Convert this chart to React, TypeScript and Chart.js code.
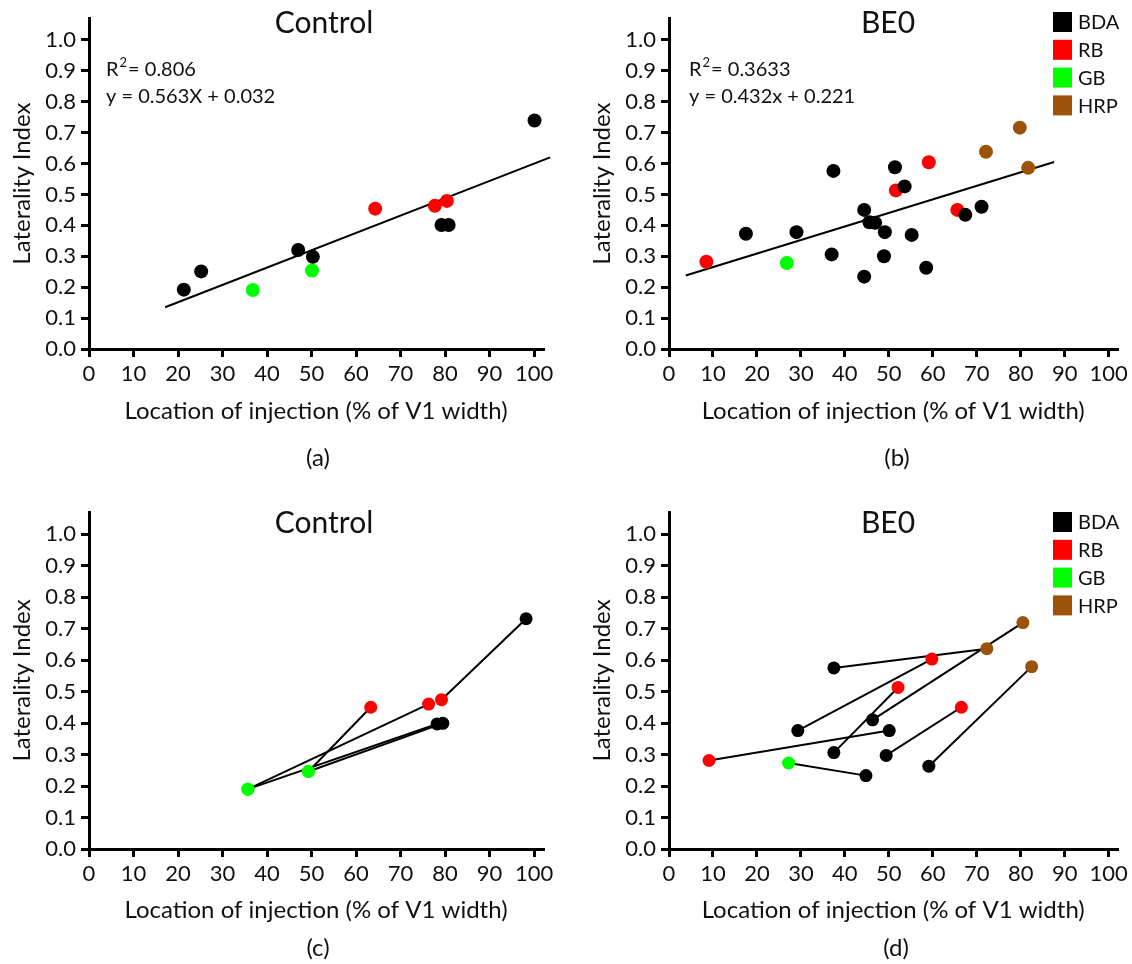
import React, { useEffect, useRef } from 'react';
import { Chart, registerables } from 'chart.js';
Chart.register(...registerables);

const FONT = 'Lato, "Open Sans", sans-serif';
const TEXT = '#111111';
const tracerNames = ['BDA', 'RB', 'GB', 'HRP'];
const tracerColors: Record<string, string> = { BDA: '#000000', RB: '#ff0000', GB: '#00ff00', HRP: '#9c5208' };

const xTicks = [0, 10, 20, 30, 40, 50, 60, 70, 80, 90, 100];
const yTicks = [0, 0.1, 0.2, 0.3, 0.4, 0.5, 0.6, 0.7, 0.8, 0.9, 1.0];
const xTitle = 'Location of injection (% of V1 width)';
const yTitle = 'Laterality Index';

// (a) Control scatter
const ctrlBDA = [[21.3, 0.192], [25.2, 0.251], [47.0, 0.320], [50.3, 0.298], [79.2, 0.401], [80.8, 0.401], [100.1, 0.739]];
const ctrlRB = [[64.3, 0.454], [77.7, 0.463], [80.4, 0.479]];
const ctrlGB = [[36.8, 0.191], [50.1, 0.254]];
const ctrlFit = [[17.1, 0.135], [103.6, 0.620]];
const ctrlStats = ['0.806', 'y = 0.563X + 0.032'];

// (b) BE0 scatter
const beoBDA = [[17.5, 0.373], [29.0, 0.378], [37.0, 0.306], [37.4, 0.576], [44.4, 0.450], [44.4, 0.234], [45.6, 0.410], [46.9, 0.408], [49.1, 0.378], [48.9, 0.300], [51.4, 0.588], [53.6, 0.526], [55.2, 0.369], [58.5, 0.263], [67.4, 0.434], [71.1, 0.460]];
const beoRB = [[8.5, 0.282], [51.6, 0.513], [59.1, 0.604], [65.6, 0.450]];
const beoGB = [[26.8, 0.278]];
const beoHRP = [[72.1, 0.638], [79.8, 0.716], [81.7, 0.586]];
const beoFit = [[3.8, 0.238], [87.6, 0.605]];
const beoStats = ['0.3633', 'y = 0.432x + 0.221'];

// (c) Control paired injections
const ctrlPairsX = [[35.7, 76.3], [35.7, 78.2], [49.3, 79.5], [49.3, 63.3], [79.2, 98.2]];
const ctrlPairsY = [[0.190, 0.460], [0.190, 0.397], [0.246, 0.399], [0.246, 0.450], [0.474, 0.731]];
const ctrlPairsTracer = [['GB', 'RB'], ['GB', 'BDA'], ['GB', 'BDA'], ['GB', 'RB'], ['RB', 'BDA']];

// (d) BE0 paired injections
const beoPairsX = [[37.5, 72.3], [29.3, 59.8], [46.3, 80.5], [37.5, 52.1], [9.1, 50.1], [27.2, 44.8], [49.4, 66.5], [59.1, 82.5]];
const beoPairsY = [[0.575, 0.636], [0.376, 0.603], [0.410, 0.719], [0.306, 0.513], [0.281, 0.376], [0.273, 0.233], [0.297, 0.450], [0.263, 0.579]];
const beoPairsTracer = [['BDA', 'HRP'], ['BDA', 'RB'], ['BDA', 'HRP'], ['BDA', 'RB'], ['RB', 'BDA'], ['GB', 'BDA'], ['BDA', 'RB'], ['BDA', 'HRP']];

const toXY = (pts: number[][]) => pts.map(p => ({ x: p[0], y: p[1] }));

function scatterSets(groups: Record<string, number[][]>, radius: number) {
  return Object.keys(groups).map(k => ({
    type: 'scatter', label: k, data: toXY(groups[k]),
    backgroundColor: tracerColors[k], borderColor: tracerColors[k],
    pointRadius: radius, pointHoverRadius: radius, borderWidth: 0, showLine: false, order: 0,
  }));
}
function fitSet(pts: number[][]) {
  return {
    type: 'scatter', label: 'fit', data: toXY(pts), showLine: true, borderColor: '#000', borderWidth: 2,
    pointRadius: 0, clip: false, order: 1,
  };
}
function pairSets(xs: number[][], ys: number[][], tr: string[][], radius: number) {
  const lines = xs.map((px, i) => ({
    type: 'scatter', label: 'pair' + i,
    data: [{ x: px[0], y: ys[i][0] }, { x: px[1], y: ys[i][1] }],
    showLine: true, borderColor: '#000', borderWidth: 2, pointRadius: 0, order: 1,
  }));
  const pts = xs.map((px, i) => ({
    type: 'scatter', label: 'pts' + i,
    data: [{ x: px[0], y: ys[i][0] }, { x: px[1], y: ys[i][1] }],
    backgroundColor: tr[i].map(t => tracerColors[t]), borderWidth: 0,
    pointRadius: radius, pointHoverRadius: radius, showLine: false, order: 0,
  }));
  return [...lines, ...pts];
}

type Geo = {
  yW: number; padTop: number; padRight: number; padBottom: number; xH: number; yTitlePad: number;
  title: string; titleX: number; titleY: number; caption: string; capX: number; capY: number;
  stats?: string[]; statsX?: number; legend?: boolean; legendX?: number; legendY?: number;
};

const annotatePlugin = {
  id: 'annotate',
  afterDraw(chart: any) {
    const g: Geo = chart.options.plugins.annotate;
    const ctx = chart.ctx;
    ctx.save();
    ctx.fillStyle = TEXT;
    ctx.textBaseline = 'middle';
    ctx.textAlign = 'center';
    ctx.font = `30px ${FONT}`;
    ctx.fillText(g.title, g.titleX, g.titleY);
    ctx.font = `24px ${FONT}`;
    ctx.fillText(g.caption, g.capX, g.capY);
    if (g.stats) {
      ctx.textAlign = 'left';
      ctx.font = `20px ${FONT}`;
      const x0 = g.statsX!;
      const y1 = g.titleY + 47;
      ctx.fillText('R', x0, y1);
      const rw = ctx.measureText('R').width;
      ctx.font = `13px ${FONT}`;
      ctx.fillText('2', x0 + rw + 1, y1 - 7);
      const sw = ctx.measureText('2').width;
      ctx.font = `20px ${FONT}`;
      ctx.fillText('= ' + g.stats[0], x0 + rw + sw + 2, y1);
      ctx.fillText(g.stats[1], x0, y1 + 27);
    }
    if (g.legend) {
      ctx.textAlign = 'left';
      ctx.font = `20px ${FONT}`;
      tracerNames.forEach((n, i) => {
        const cy = g.legendY! + i * 27.8;
        ctx.fillStyle = tracerColors[n];
        ctx.fillRect(g.legendX!, cy - 10, 19, 20);
        ctx.fillStyle = TEXT;
        ctx.fillText(n, g.legendX! + 25, cy + 1);
      });
    }
    ctx.restore();
  },
};

function makeConfig(datasets: any[], g: Geo) {
  const tickFont = { family: FONT, size: 22 };
  const titleFont = { family: FONT, size: 24 };
  return {
    type: 'scatter',
    data: { datasets },
    plugins: [annotatePlugin],
    options: {
      animation: false,
      responsive: false,
      devicePixelRatio: 1,
      events: [],
      layout: { padding: { left: 0, top: g.padTop, right: g.padRight, bottom: g.padBottom } },
      plugins: { legend: { display: false }, tooltip: { enabled: false }, title: { display: false }, annotate: g },
      scales: {
        x: {
          type: 'linear', min: 0, max: 102,
          afterBuildTicks: (s: any) => { s.ticks = xTicks.map(v => ({ value: v })); },
          afterFit: (s: any) => { s.height = g.xH; },
          ticks: { font: tickFont, color: TEXT, padding: 4, autoSkip: false, maxRotation: 0, callback: (v: any) => String(v) },
          grid: { drawOnChartArea: false, drawTicks: true, tickLength: 8, color: '#000', lineWidth: 3 },
          border: { display: true, color: '#000', width: 3 },
          title: { display: true, text: xTitle, font: titleFont, color: TEXT, padding: { top: 0, bottom: 0 } },
        },
        y: {
          type: 'linear', min: 0, max: 1.07,
          afterBuildTicks: (s: any) => { s.ticks = yTicks.map(v => ({ value: v })); },
          afterFit: (s: any) => { s.width = g.yW; },
          ticks: { font: tickFont, color: TEXT, padding: 5, autoSkip: false, callback: (v: any) => Number(v).toFixed(1) },
          grid: { drawOnChartArea: false, drawTicks: true, tickLength: 8, color: '#000', lineWidth: 3 },
          border: { display: true, color: '#000', width: 3 },
          title: { display: true, text: yTitle, font: titleFont, color: TEXT, padding: { top: g.yTitlePad, bottom: 0 } },
        },
      },
    },
  };
}

function Panel({ left, top, config }: { left: number; top: number; config: any }) {
  const ref = useRef<HTMLCanvasElement>(null);
  useEffect(() => {
    const chart = new Chart(ref.current as HTMLCanvasElement, config);
    return () => chart.destroy();
  }, []);
  return (
    <div style={{ position: 'absolute', left, top, width: 566, height: 482 }}>
      <canvas ref={ref} width={566} height={482} style={{ display: 'block', width: 566, height: 482 }} />
    </div>
  );
}

const geoA: Geo = { yW: 89, padTop: 15, padRight: 23, padBottom: 56, xH: 77, yTitlePad: 8, title: 'Control', titleX: 324, titleY: 23, caption: '(a)', capX: 318, capY: 458, stats: ctrlStats, statsX: 106 };
const geoB: Geo = { yW: 103, padTop: 15, padRight: 12, padBottom: 56, xH: 77, yTitlePad: 22, title: 'BE0', titleX: 322, titleY: 23, caption: '(b)', capX: 331, capY: 458, stats: beoStats, statsX: 123, legend: true, legendX: 487, legendY: 22 };
const geoC: Geo = { yW: 89, padTop: 30, padRight: 23, padBottom: 39, xH: 76, yTitlePad: 8, title: 'Control', titleX: 324, titleY: 41, caption: '(c)', capX: 318, capY: 466 };
const geoD: Geo = { yW: 103, padTop: 30, padRight: 12, padBottom: 39, xH: 76, yTitlePad: 22, title: 'BE0', titleX: 322, titleY: 41, caption: '(d)', capX: 330, capY: 466, legend: true, legendX: 487, legendY: 40 };

export default function App() {
  const cfgA = makeConfig([fitSet(ctrlFit), ...scatterSets({ BDA: ctrlBDA, RB: ctrlRB, GB: ctrlGB }, 7)], geoA);
  const cfgB = makeConfig([fitSet(beoFit), ...scatterSets({ BDA: beoBDA, RB: beoRB, GB: beoGB, HRP: beoHRP }, 7)], geoB);
  const cfgC = makeConfig(pairSets(ctrlPairsX, ctrlPairsY, ctrlPairsTracer, 6.5), geoC);
  const cfgD = makeConfig(pairSets(beoPairsX, beoPairsY, beoPairsTracer, 6.5), geoD);
  return (
    <div style={{ position: 'absolute', left: 0, top: 0, width: 1132, height: 964, background: '#fff' }}>
      <Panel left={0} top={0} config={cfgA} />
      <Panel left={566} top={0} config={cfgB} />
      <Panel left={0} top={482} config={cfgC} />
      <Panel left={566} top={482} config={cfgD} />
    </div>
  );
}
